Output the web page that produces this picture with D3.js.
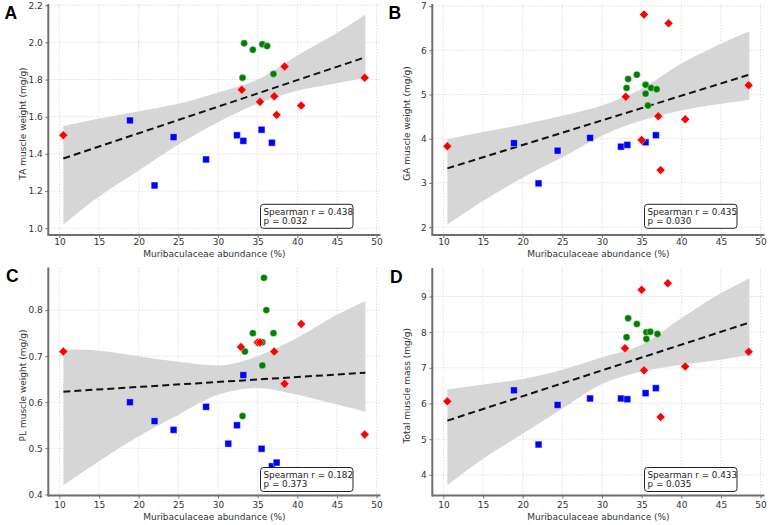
<!DOCTYPE html>
<html>
<head>
<meta charset="utf-8">
<script src="https://cdn.jsdelivr.net/npm/d3@7"></script>
<style>
  body { margin: 0; background: #fff; }
  text { font-family: "DejaVu Sans", sans-serif; }
</style>
</head>
<body>
<svg id="chart" width="769" height="525"></svg>
<script>
'use strict';

// shared x ticks and the x positions where the CI band was read
var xTicks = [10, 15, 20, 25, 30, 35, 40, 45, 50];
var bandX = [10.5, 15, 20, 25, 30, 35, 40, 45, 48.6];
var fitX = [10.5, 48.6];

// A - TA muscle weight
var aBlueX = [18.9, 22.0, 24.4, 28.5, 32.4, 33.2, 35.5, 36.8];
var aBlueY = [1.58, 1.23, 1.49, 1.37, 1.50, 1.47, 1.53, 1.46];
var aRedX = [10.5, 33.0, 35.3, 37.1, 37.4, 38.4, 40.5, 48.5];
var aRedY = [1.50, 1.745, 1.68, 1.71, 1.61, 1.87, 1.66, 1.81];
var aGreenX = [33.1, 33.3, 34.4, 35.6, 36.2, 37.0];
var aGreenY = [1.81, 1.995, 1.96, 1.99, 1.98, 1.83];
var aFitY = [1.375, 1.92];
var aBandLo = [1.02, 1.17, 1.31, 1.45, 1.57, 1.67, 1.74, 1.78, 1.81];
var aBandHi = [1.55, 1.59, 1.63, 1.67, 1.73, 1.80, 1.93, 2.05, 2.15];
var aYTicks = [1.0, 1.2, 1.4, 1.6, 1.8, 2.0, 2.2];

// B - GA muscle weight
var bBlueX = [18.9, 22.0, 24.4, 28.5, 32.4, 33.2, 35.5, 36.8];
var bBlueY = [3.90, 2.99, 3.73, 4.02, 3.82, 3.86, 3.92, 4.08];
var bRedX = [10.5, 33.0, 35.0, 35.3, 37.1, 37.4, 38.4, 40.5, 48.5];
var bRedY = [3.83, 4.95, 3.97, 6.81, 4.51, 3.29, 6.61, 4.44, 5.21];
var bGreenX = [33.1, 33.3, 34.4, 35.5, 35.5, 35.8, 36.2, 36.9];
var bGreenY = [5.15, 5.35, 5.45, 5.22, 5.02, 4.75, 5.15, 5.12];
var bFitY = [3.33, 5.45];
var bBandLo = [2.06, 2.59, 3.12, 3.58, 4.07, 4.41, 4.64, 4.79, 4.88];
var bBandHi = [3.99, 4.15, 4.32, 4.52, 4.75, 5.13, 5.70, 6.15, 6.43];
var bYTicks = [2, 3, 4, 5, 6, 7];

// C - PL muscle weight
var cBlueX = [18.9, 22.0, 24.4, 28.5, 31.3, 32.4, 33.2, 35.5, 36.8, 37.4];
var cBlueY = [0.600, 0.559, 0.540, 0.590, 0.510, 0.550, 0.659, 0.499, 0.461, 0.469];
var cRedX = [10.5, 32.9, 35.0, 35.3, 37.1, 38.4, 40.5, 48.5];
var cRedY = [0.71, 0.72, 0.73, 0.73, 0.71, 0.64, 0.77, 0.53];
var cGreenX = [35.8, 36.1, 34.4, 37.0, 33.4, 35.6, 35.6, 33.1];
var cGreenY = [0.87, 0.80, 0.75, 0.75, 0.71, 0.73, 0.68, 0.57];
var cFitY = [0.623, 0.664];
var cBandLo = [0.42, 0.472, 0.526, 0.573, 0.616, 0.631, 0.616, 0.595, 0.58];
var cBandHi = [0.715, 0.712, 0.70, 0.688, 0.68, 0.70, 0.74, 0.79, 0.82];
var cYTicks = [0.4, 0.5, 0.6, 0.7, 0.8];

// D - total muscle mass
var dBlueX = [18.9, 22.0, 24.4, 28.5, 32.4, 33.2, 35.5, 36.8];
var dBlueY = [6.37, 4.85, 5.96, 6.14, 6.14, 6.12, 6.29, 6.43];
var dRedX = [10.5, 32.9, 35.0, 35.3, 37.4, 38.3, 40.5, 48.5];
var dRedY = [6.06, 7.55, 9.19, 6.93, 5.62, 9.37, 7.04, 7.45];
var dGreenX = [33.1, 33.3, 34.4, 35.6, 36.1, 35.6, 37.0];
var dGreenY = [7.86, 8.39, 8.23, 8.00, 8.01, 7.81, 7.95];
var dFitY = [5.52, 8.27];
var dBandLo = [3.71, 4.45, 5.15, 5.86, 6.55, 6.90, 7.09, 7.23, 7.37];
var dBandHi = [6.39, 6.53, 6.69, 6.95, 7.30, 7.65, 8.39, 9.09, 9.51];
var dYTicks = [4, 5, 6, 7, 8, 9];

var panels = [
  { letter: 'A', ylabel: 'TA muscle weight (mg/g)', ox: 0, top: 4, bottom: 235, row: 0,
    bx: aBlueX, by: aBlueY, rx: aRedX, ry: aRedY, gx: aGreenX, gy: aGreenY,
    fit: aFitY, lo: aBandLo, hi: aBandHi, yticks: aYTicks, fmt: '.1f', r: '0.438', p: '0.032' },
  { letter: 'B', ylabel: 'GA muscle weight (mg/g)', ox: 384, top: 4, bottom: 235, row: 0,
    bx: bBlueX, by: bBlueY, rx: bRedX, ry: bRedY, gx: bGreenX, gy: bGreenY,
    fit: bFitY, lo: bBandLo, hi: bBandHi, yticks: bYTicks, fmt: 'd', r: '0.435', p: '0.030' },
  { letter: 'C', ylabel: 'PL muscle weight (mg/g)', ox: 0, top: 267.5, bottom: 495.5, row: 1,
    bx: cBlueX, by: cBlueY, rx: cRedX, ry: cRedY, gx: cGreenX, gy: cGreenY,
    fit: cFitY, lo: cBandLo, hi: cBandHi, yticks: cYTicks, fmt: '.1f', r: '0.182', p: '0.373' },
  { letter: 'D', ylabel: 'Total muscle mass (mg/g)', ox: 384, top: 268, bottom: 495.5, row: 1,
    bx: dBlueX, by: dBlueY, rx: dRedX, ry: dRedY, gx: dGreenX, gy: dGreenY,
    fit: dFitY, lo: dBandLo, hi: dBandHi, yticks: dYTicks, fmt: 'd', r: '0.433', p: '0.035' }
];

var svg = d3.select('#chart');

var drawPanel = function(pn) {
  var left = pn.ox + 48.3, right = pn.ox + 380.5;
  var x = d3.scaleLinear().domain([8.6, 50.5]).range([left, right]);

  // y limits like matplotlib autoscale: data + band, 5% pad
  var all = pn.lo.concat(pn.hi, pn.by, pn.ry, pn.gy);
  var mn = d3.min(all), mx = d3.max(all), pad = (mx - mn) * 0.05;
  var y = d3.scaleLinear().domain([mn - pad, mx + pad]).range([pn.bottom, pn.top]);

  var g = svg.append('g');

  // grid
  g.selectAll('.gx').data(xTicks).enter().append('line')
    .attr('x1', function(d) { return x(d); }).attr('x2', function(d) { return x(d); })
    .attr('y1', pn.top).attr('y2', pn.bottom)
    .attr('stroke', '#d8d8d8').attr('stroke-width', 0.8).attr('stroke-dasharray', '1.5,1.5');
  g.selectAll('.gy').data(pn.yticks).enter().append('line')
    .attr('x1', left).attr('x2', right)
    .attr('y1', function(d) { return y(d); }).attr('y2', function(d) { return y(d); })
    .attr('stroke', '#d8d8d8').attr('stroke-width', 0.8).attr('stroke-dasharray', '1.5,1.5');

  // CI band
  var band = d3.area()
    .x(function(d, i) { return x(bandX[i]); })
    .y0(function(d, i) { return y(pn.lo[i]); })
    .y1(function(d, i) { return y(pn.hi[i]); })
    .curve(d3.curveMonotoneX);
  g.append('path').datum(bandX).attr('d', band).attr('fill', '#d6d6d6');

  // regression line
  var line = d3.line().x(function(d, i) { return x(fitX[i]); }).y(function(d) { return y(d); });
  g.append('path').datum(pn.fit).attr('d', line)
    .attr('stroke', '#111').attr('stroke-width', 2).attr('fill', 'none')
    .attr('stroke-dasharray', '7,4');

  // points
  var sq = d3.symbol().type(d3.symbolSquare).size(46);
  var ci = d3.symbol().type(d3.symbolCircle).size(38);
  var di = d3.symbol().type(d3.symbolSquare).size(40);

  g.selectAll('.blue').data(pn.bx).enter().append('path')
    .attr('d', sq)
    .attr('transform', function(d, i) { return 'translate(' + x(d) + ',' + y(pn.by[i]) + ')'; })
    .attr('fill', '#0000ff').attr('stroke', '#fff').attr('stroke-width', 0.4);
  g.selectAll('.green').data(pn.gx).enter().append('path')
    .attr('d', ci)
    .attr('transform', function(d, i) { return 'translate(' + x(d) + ',' + y(pn.gy[i]) + ')'; })
    .attr('fill', '#008000').attr('stroke', '#fff').attr('stroke-width', 0.4);
  g.selectAll('.red').data(pn.rx).enter().append('path')
    .attr('d', di)
    .attr('transform', function(d, i) { return 'translate(' + x(d) + ',' + y(pn.ry[i]) + ') rotate(45)'; })
    .attr('fill', '#ff0000').attr('stroke', '#fff').attr('stroke-width', 0.4);

  // axes
  var xa = g.append('g').attr('transform', 'translate(0,' + pn.bottom + ')')
    .call(d3.axisBottom(x).tickValues(xTicks).tickSize(3).tickPadding(pn.row ? 2.8 : 0.3).tickSizeOuter(0));
  var ya = g.append('g').attr('transform', 'translate(' + left + ',0)')
    .call(d3.axisLeft(y).tickValues(pn.yticks).tickFormat(d3.format(pn.fmt)).tickSize(3).tickPadding(2.5).tickSizeOuter(0));
  [xa, ya].forEach(function(a) {
    a.select('.domain').attr('stroke', '#6e6e6e').attr('stroke-width', 2);
    a.selectAll('.tick line').attr('stroke', '#6e6e6e');
    a.selectAll('.tick text').attr('fill', '#333').style('font-size', '9px')
      .style('font-family', '"DejaVu Sans", sans-serif');
  });
  xa.select('.domain').attr('d', 'M' + left + ',0H' + right);
  ya.select('.domain').attr('d', 'M0,' + pn.top + 'V' + (pn.bottom + 1));

  // axis labels
  g.append('text').attr('x', (left + right) / 2).attr('y', pn.row ? 519.5 : 256.5)
    .attr('text-anchor', 'middle').attr('fill', '#333').style('font-size', '9px')
    .text('Muribaculaceae abundance (%)');
  g.append('text')
    .attr('transform', 'translate(' + (pn.ox + 26) + ',' + ((pn.top + pn.bottom) / 2 + 4) + ') rotate(-90)')
    .attr('text-anchor', 'middle').attr('fill', '#333').style('font-size', '9px')
    .text(pn.ylabel);

  // panel letter
  g.append('text').attr('x', pn.ox + (pn.row ? 6 : 4.5)).attr('y', pn.top + 14.5)
    .style('font-family', '"Liberation Sans", Arial, sans-serif').style('font-weight', 'bold')
    .style('font-size', '17.5px').attr('fill', '#000').text(pn.letter);

  // stats box
  var boxR = right - 27.5, boxB = pn.row ? 491.5 : 228.3;
  var bw = 92.5, bh = 24;
  g.append('rect').attr('x', boxR - bw).attr('y', boxB - bh).attr('width', bw).attr('height', bh)
    .attr('rx', 3).attr('fill', '#fff').attr('stroke', '#222').attr('stroke-width', 1);
  g.append('text').attr('x', boxR - bw + 3).attr('y', boxB - bh + 10.3)
    .attr('fill', '#222').style('font-size', '8.8px').text('Spearman r = ' + pn.r);
  g.append('text').attr('x', boxR - bw + 3).attr('y', boxB - bh + 19.5)
    .attr('fill', '#222').style('font-size', '8.8px').text('p = ' + pn.p);
};

panels.forEach(drawPanel);
</script>
</body>
</html>
